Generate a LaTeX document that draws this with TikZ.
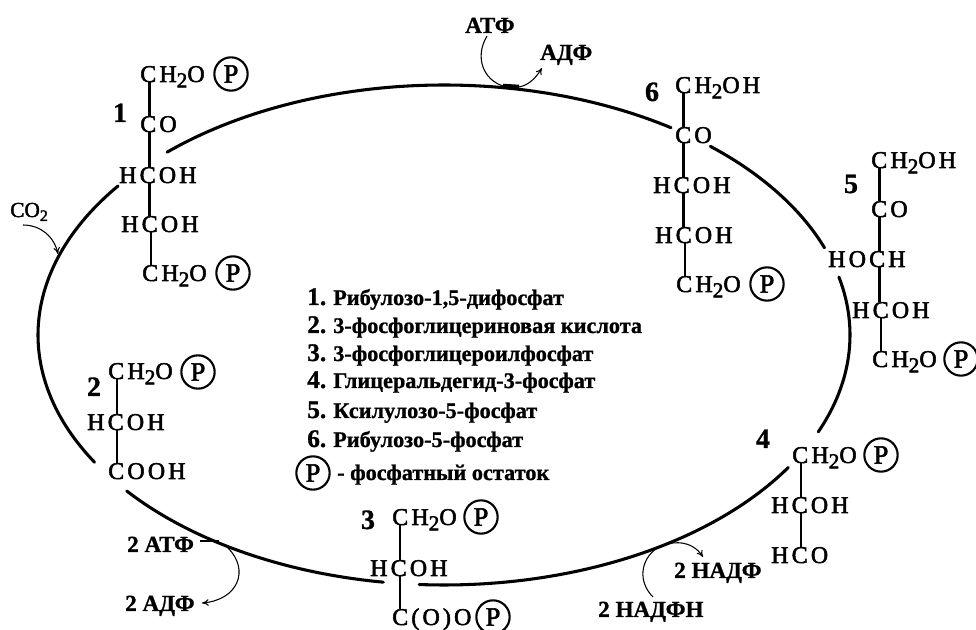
\documentclass[tikz,border=0pt]{standalone}
\usepackage{fontspec}
\usetikzlibrary{arrows.meta}
\newfontfamily\chemf[LetterSpace=13,FakeBold=2.2]{Liberation Serif}
\newfontfamily\phosf[FakeBold=2]{Liberation Serif}
\newfontfamily\boldf[FakeBold=1]{Liberation Serif Bold}
\newfontfamily\legf[FakeBold=1]{Liberation Serif Bold}
\newcommand{\subtwo}{\raisebox{-4pt}{\fontsize{16}{16}\selectfont 2}}
\newcommand{\cyclearc}[2]{\draw[cycle] plot[domain=#1:#2,samples=80] ({444+406*cos(\x)},{335+250*sin(\x)});}
\tikzset{
  atom/.style={anchor=base west,inner sep=0pt,font=\chemf\fontsize{18}{18}\selectfont,text height=12pt,text depth=0pt},
  bond/.style={line width=2.1pt,black},
  cycle/.style={line width=2.3pt,black,line cap=round,line join=round},
  phos/.style={circle,draw,line width=1.6pt,minimum size=25pt,inner sep=0pt,font=\phosf\fontsize{20}{20}\selectfont},
  num/.style={anchor=base,inner sep=0pt,font=\boldf\fontsize{21}{21}\selectfont},
  cof/.style={anchor=base west,inner sep=0pt,font=\boldf\fontsize{17.3}{17.3}\selectfont},
  leg/.style={anchor=base west,inner sep=0pt,font=\legf\fontsize{16.7}{16.7}\selectfont},
  legn/.style={anchor=base west,inner sep=0pt,font=\boldf\fontsize{19}{19}\selectfont},
  thin arrow/.style={line width=0.8pt,black,-{To[length=5pt,width=5pt]}},
  thin curve/.style={line width=0.8pt,black},
}
\begin{document}
\begin{tikzpicture}[x=0.75pt,y=-0.75pt]
\useasboundingbox (0,0) rectangle (976,630);
% cycle arcs
\cyclearc{227}{304}
\cyclearc{311}{339.6}
\cyclearc{346.6}{382.8}
\cyclearc{32}{93.5}
\cyclearc{98.6}{141.4}
\cyclearc{149.4}{216.6}
% molecule 1
\node[atom] (a1) at (140,82) {CH\subtwo O};
\node[atom] (b1) at (140,132) {CO};
\node[atom] (c1) at (119,183) {HCOH};
\node[atom] (d1) at (121,232) {HCOH};
\node[atom] (e1) at (142,281) {CH\subtwo O};
\node[phos] (p1a) at (231,74) {P};
\node[phos] (p1e) at (233,273) {P};
\node[num] (n1) at (120,122) {1};
\coordinate (x1) at (149.5,0);
\coordinate (x1l) at (151,0);
\draw[bond] (a1.south -| x1) -- (b1.north -| x1);
\draw[bond] (b1.south -| x1) -- (c1.north -| x1);
\draw[bond] (c1.south -| x1) -- (d1.north -| x1);
\draw[bond] (d1.south -| x1l) -- (e1.north -| x1l);
% molecule 2
\node[atom] (a2) at (108,379) {CH\subtwo O};
\node[atom] (b2) at (87,430) {HCOH};
\node[atom] (c2) at (108,479) {COOH};
\node[phos] (p2) at (198,372) {P};
\node[num] (n2) at (94,396) {2};
\coordinate (x2) at (117,0);
\draw[bond] (a2.south -| x2) -- (b2.north -| x2);
\draw[bond] (b2.south -| x2) -- (c2.north -| x2);
% molecule 3
\node[atom] (a3) at (392,525) {CH\subtwo O};
\node[atom] (b3) at (370,576) {HCOH};
\node[atom] (c3) at (392,625) {C(O)O};
\node[phos] (p3a) at (481,517) {P};
\node[phos] (p3c) at (493,617) {P};
\node[num] (n3) at (368,529) {3};
\coordinate (x3) at (400,0);
\draw[bond] (a3.south -| x3) -- (b3.north -| x3);
\draw[bond] (b3.south -| x3) -- (c3.north -| x3);
% molecule 4
\node[atom] (a4) at (792,463) {CH\subtwo O};
\node[atom] (b4) at (771,513) {HCOH};
\node[atom] (c4) at (771,563) {HCO};
\node[phos] (p4) at (881,455) {P};
\node[num] (n4) at (763,448) {4};
\coordinate (x4) at (801,0);
\draw[bond] (a4.south -| x4) -- (b4.north -| x4);
\draw[bond] (b4.south -| x4) -- (c4.north -| x4);
% molecule 5
\node[atom] (a5) at (871,168) {CH\subtwo OH};
\node[atom] (b5) at (871,217) {CO};
\node[atom] (c5) at (828,267) {HOCH};
\node[atom] (d5) at (852,318) {HCOH};
\node[atom] (e5) at (872,367) {CH\subtwo O};
\node[phos] (p5) at (961,359) {P};
\node[num] (n5) at (851,193) {5};
\coordinate (x5) at (879.5,0);
\coordinate (x5l) at (881,0);
\draw[bond] (a5.south -| x5) -- (b5.north -| x5);
\draw[bond] (b5.south -| x5) -- (c5.north -| x5);
\draw[bond] (c5.south -| x5) -- (d5.north -| x5);
\draw[bond] (d5.south -| x5l) -- (e5.north -| x5l);
% molecule 6
\node[atom] (a6) at (675,93) {CH\subtwo OH};
\node[atom] (b6) at (675,143) {CO};
\node[atom] (c6) at (653,193) {HCOH};
\node[atom] (d6) at (655,243) {HCOH};
\node[atom] (e6) at (676,292) {CH\subtwo O};
\node[phos] (p6) at (767,284) {P};
\node[num] (n6) at (652,101) {6};
\coordinate (x6) at (683.5,0);
\coordinate (x6l) at (685,0);
\draw[bond] (a6.south -| x6) -- (b6.north -| x6);
\draw[bond] (b6.south -| x6) -- (c6.north -| x6);
\draw[bond] (c6.south -| x6) -- (d6.north -| x6);
\draw[bond] (d6.south -| x6l) -- (e6.north -| x6l);
% cofactors
\node[cof,font=\phosf\fontsize{16}{16}\selectfont] (co2) at (10,217) {CO\raisebox{-3pt}{\fontsize{12}{12}\selectfont 2}};
\node[cof] (atp) at (465,33) {АТФ};
\node[cof] (adp) at (540,60) {АДФ};
\node[cof] (atp2) at (127,552) {2 АТФ};
\node[cof] (adp2) at (125,611) {2 АДФ};
\node[cof] (nadp) at (674,578) {2 НАДФ};
\node[cof] (nadph) at (598,617) {2 НАДФН};
% cofactor curves
\coordinate (co2a) at (23,225);
\coordinate (co2b) at (58,254);
\draw[thin arrow] (co2a) .. controls (40,225) and (54,236) .. (co2b);
\coordinate (atpa) at (487,36);
\coordinate (atpb) at (503,86);
\coordinate (adpa) at (519,87);
\coordinate (adpb) at (542,68);
\draw[thin curve] (atpa) .. controls (474,58) and (484,80) .. (atpb);
\draw[line width=3.4pt] (atpb) -- (adpa);
\draw[thin arrow] (adpa) .. controls (530,85) and (537,76) .. (adpb);
\coordinate (t2a) at (200,541);
\coordinate (t2b) at (219,541);
\coordinate (t2c) at (228,548);
\coordinate (d2a) at (202,603);
\draw[line width=1.3pt] (t2a) -- (t2b);
\draw[thin arrow] (t2c) .. controls (250,570) and (238,600) .. (d2a);
\coordinate (nha) at (653,597);
\coordinate (nhb) at (657,548);
\coordinate (nhc) at (703,557);
\draw[thin curve] (nha) .. controls (638,582) and (640,560) .. (nhb);
\draw[thin arrow] (nhb) .. controls (672,540) and (692,540) .. (nhc);
% legend
\node[legn] (l1) at (307,305) {1.};
\node[leg] (t1) at (333,305) {Рибулозо-1,5-дифосфат};
\node[legn] (l2) at (307,333) {2.};
\node[leg] (t2) at (333,333) {3-фосфоглицериновая кислота};
\node[legn] (l3) at (307,361) {3.};
\node[leg] (t3) at (333,361) {3-фосфоглицероилфосфат};
\node[legn] (l4) at (307,388) {4.};
\node[leg] (t4) at (333,388) {Глицеральдегид-3-фосфат};
\node[legn] (l5) at (307,418) {5.};
\node[leg] (t5) at (333,418) {Ксилулозо-5-фосфат};
\node[legn] (l6) at (307,447) {6.};
\node[leg] (t6) at (333,447) {Рибулозо-5-фосфат};
\node[phos] (pl) at (313,473) {P};
\node[leg] (t7) at (337,480) {- фосфатный остаток};
\end{tikzpicture}
\end{document}
